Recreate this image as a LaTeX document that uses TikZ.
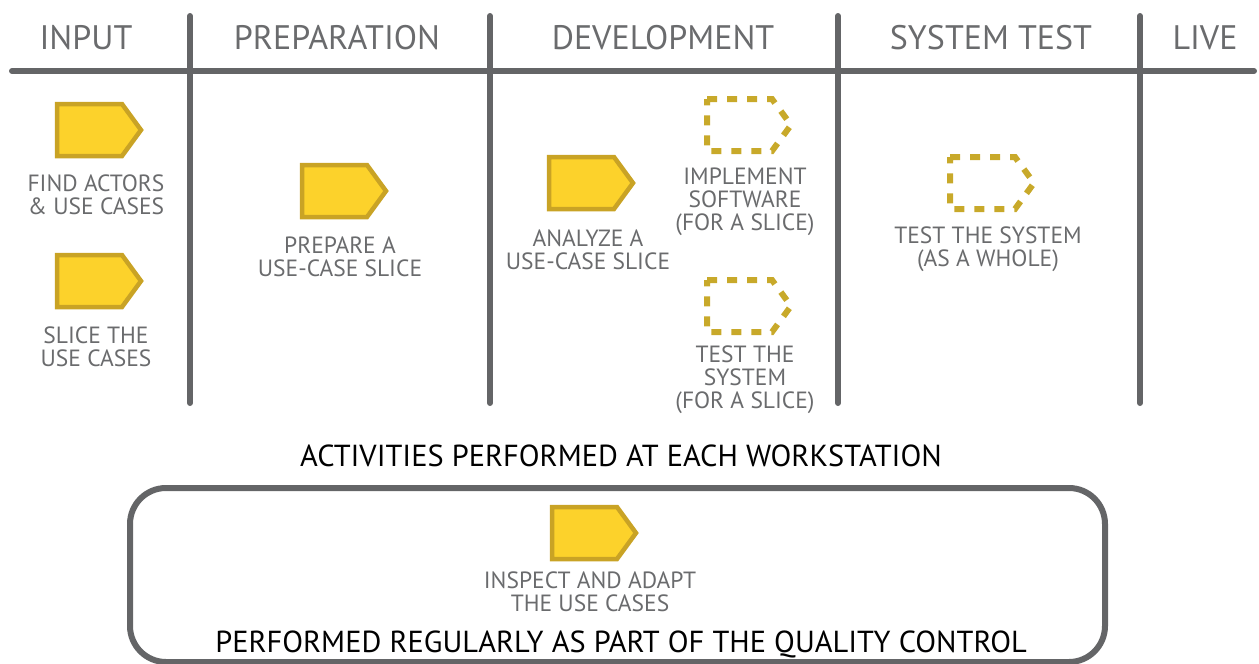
\documentclass[tikz,border=0pt]{standalone}
\usepackage{fontspec}
\setmainfont{PT Sans}
\definecolor{linegray}{HTML}{646567}
\definecolor{txtgray}{HTML}{6A6B6D}
\definecolor{chevfill}{HTML}{FCD22B}
\definecolor{chevdraw}{HTML}{C9A325}
\definecolor{dashcol}{HTML}{C8A92A}
\newcommand\solidchev[2]{\draw[solidshape] (#1,#2) -- ++(65,0) -- ++(19,26) -- ++(-19,26) -- ++(-65,0) -- cycle;}
\newcommand\dashchev[2]{\draw[dashshape] (#1,#2) -- ++(65,0) -- ++(19,26) -- ++(-19,26) -- ++(-65,0) -- cycle;}
\begin{document}
\begin{tikzpicture}[x=1pt,y=-1pt,
  sep/.style={draw=linegray,line width=6pt,line cap=round},
  head/.style={text=txtgray,font=\fontsize{34}{36}\selectfont,inner sep=0pt,anchor=center},
  lab/.style={text=txtgray,font=\fontsize{23.5}{23}\selectfont,align=center,inner sep=0pt,anchor=center},
  big/.style={text=black,font=\fontsize{30.4}{36}\selectfont,inner sep=0pt,anchor=center},
  solidshape/.style={fill=chevfill,draw=chevdraw,line width=4.5pt,line join=miter},
  dashshape/.style={draw=dashcol,line width=6pt,dash pattern=on 10pt off 10pt}]
\useasboundingbox (0,0) rectangle (1259,664);
% grid
\coordinate (hl) at (12,71); \coordinate (hr) at (1254,71);
\draw[sep] (hl) -- (hr);
\foreach \x/\n in {190/a,490/b,838/c,1140/d}{
  \coordinate (t\n) at (\x,16); \coordinate (b\n) at (\x,403);
  \draw[sep] (t\n) -- (b\n);
}
% headers
\node[head] (h1) at (86,38) {INPUT};
\node[head] (h2) at (337,38) {PREPARATION};
\node[head] (h3) at (663,38) {DEVELOPMENT};
\node[head] (h4) at (991,38) {SYSTEM TEST};
\node[head] (h5) at (1205,38) {LIVE};
% shapes
\solidchev{57}{104}
\solidchev{57}{255}
\solidchev{302}{165}
\solidchev{549}{157}
\solidchev{552}{507}
\dashchev{707}{99}
\dashchev{707}{280}
\dashchev{950}{157}
% labels
\node[lab] (l1) at (96,195) {FIND ACTORS\\\& USE CASES};
\node[lab] (l2) at (96,347) {SLICE THE\\USE CASES};
\node[lab] (l3) at (340,257) {PREPARE A\\USE-CASE SLICE};
\node[lab] (l4) at (588,250) {ANALYZE A\\USE-CASE SLICE};
\node[lab] (l5) at (745,202) {IMPLEMENT\\SOFTWARE\\(FOR A SLICE)};
\node[lab] (l6) at (745,380) {TEST THE\\SYSTEM\\(FOR A SLICE)};
\node[lab] (l7) at (988,249) {TEST THE SYSTEM\\(AS A WHOLE)};
\node[lab] (l8) at (590,592) {INSPECT AND ADAPT\\THE USE CASES};
\node[big] (t1) at (621,456) {ACTIVITIES PERFORMED AT EACH WORKSTATION};
% bottom box
\draw[draw=linegray,line width=6pt,rounded corners=36pt] (130,488) rectangle (1105,662);
\node[big] (t2) at (621,644) {PERFORMED REGULARLY AS PART OF THE QUALITY CONTROL};
\end{tikzpicture}
\end{document}
